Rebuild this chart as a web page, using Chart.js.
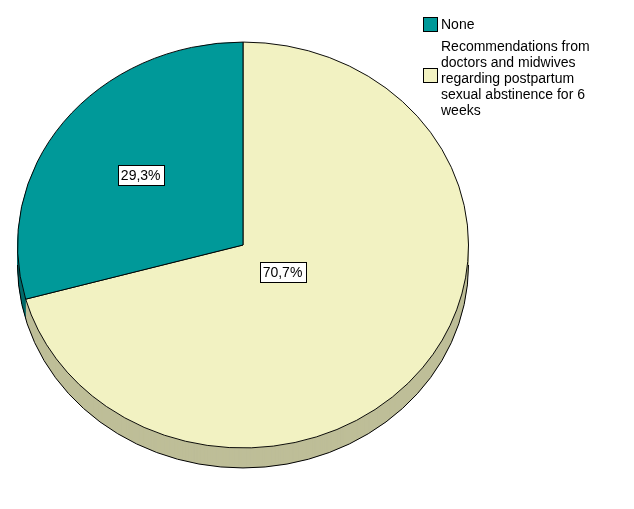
<!DOCTYPE html>
<html>
<head>
<meta charset="utf-8">
<script src="https://cdn.jsdelivr.net/npm/chart.js@4"></script>
<style>
  body { margin: 0; background: #fff; width: 634px; height: 509px; position: relative; overflow: hidden; }
  #wrap { position: absolute; left: 0; top: 0; width: 486px; height: 490px; }
  .leg { position: absolute; left: 423px; font: 14px "Liberation Sans", Arial, sans-serif; color: #000; line-height: 16px; }
  .leg .box { position: absolute; left: 0; width: 13px; height: 13px; border: 1px solid #000; }
  .leg .txt { position: absolute; left: 18px; white-space: nowrap; }
</style>
</head>
<body>
<div id="wrap"><canvas id="c"></canvas></div>
<div class="leg" style="top:17px"><div class="box" style="background:#009999;top:0"></div><div class="txt" style="top:-1px">None</div></div>
<div class="leg" style="top:38px"><div class="box" style="background:#F2F2C2;top:30px"></div><div class="txt" style="top:0">Recommendations from<br>doctors and midwives<br>regarding postpartum<br>sexual abstinence for 6<br>weeks</div></div>
<script>
const categories = ["Recommendations from doctors and midwives regarding postpartum sexual abstinence for 6 weeks", "None"];
const values = [70.7, 29.3];
const valueLabels = ["70,7%", "29,3%"];
const colors = ["#F2F2C2", "#009999"];
const sideColors = ["#BEBE98", "#006B6B"];

const SY = 0.9, DEPTH = 20;
const labelFrac = [0.22, 0.57];

const pie3d = {
  id: "pie3d",
  beforeDatasetsDraw(chart) {
    const ctx = chart.ctx;
    const arcs = chart.getDatasetMeta(0).data;
    const cy = arcs[0].y;
    ctx.save();
    ctx.translate(0, cy); ctx.scale(1, SY); ctx.translate(0, -cy);
    for (let d = DEPTH; d >= 1; d--) {
      arcs.forEach((a, i) => {
        ctx.beginPath();
        ctx.moveTo(a.x, a.y + d / SY);
        ctx.arc(a.x, a.y + d / SY, a.outerRadius, a.startAngle, a.endAngle);
        ctx.closePath();
        ctx.fillStyle = sideColors[i];
        ctx.fill();
      });
    }
    const a0 = arcs[0];
    ctx.beginPath();
    ctx.arc(a0.x, a0.y + DEPTH / SY, a0.outerRadius, 0, Math.PI);
    ctx.lineWidth = 1; ctx.strokeStyle = "#000";
    ctx.setTransform(1, 0, 0, 1, 0, 0);
    ctx.restore();
    ctx.save();
    ctx.translate(0, cy); ctx.scale(1, SY); ctx.translate(0, -cy);
    ctx.beginPath();
    ctx.arc(a0.x, a0.y + DEPTH / SY, a0.outerRadius, 0, Math.PI);
    ctx.restore();
    ctx.strokeStyle = "#000"; ctx.lineWidth = 1; ctx.stroke();
    ctx.save();
    ctx.translate(0, cy); ctx.scale(1, SY); ctx.translate(0, -cy);
  },
  afterDatasetsDraw(chart) {
    const ctx = chart.ctx;
    ctx.restore();
    const arcs = chart.getDatasetMeta(0).data;
    ctx.font = "14px 'Liberation Sans', Arial, sans-serif";
    ctx.textAlign = "center"; ctx.textBaseline = "middle";
    arcs.forEach((a, i) => {
      const mid = (a.startAngle + a.endAngle) / 2;
      const r = a.outerRadius * labelFrac[i];
      const x = a.x + Math.cos(mid) * r;
      const y = a.y + Math.sin(mid) * r * SY;
      const w = ctx.measureText(valueLabels[i]).width + 6, h = 20;
      ctx.fillStyle = "#fff";
      ctx.fillRect(Math.round(x - w / 2) + 0.5, Math.round(y - h / 2) + 0.5, Math.round(w), h);
      ctx.strokeStyle = "#000"; ctx.lineWidth = 1;
      ctx.strokeRect(Math.round(x - w / 2) + 0.5, Math.round(y - h / 2) + 0.5, Math.round(w), h);
      ctx.fillStyle = "#000";
      ctx.fillText(valueLabels[i], x, y + 1);
    });
  }
};

new Chart(document.getElementById("c"), {
  type: "pie",
  data: {
    labels: categories,
    datasets: [{ data: values, backgroundColor: colors, borderColor: "#000", borderWidth: 1 }]
  },
  options: {
    responsive: true,
    maintainAspectRatio: false,
    animation: false,
    layout: { padding: 17 },
    plugins: { legend: { display: false }, tooltip: { enabled: false } }
  },
  plugins: [pie3d]
});
</script>
</body>
</html>
